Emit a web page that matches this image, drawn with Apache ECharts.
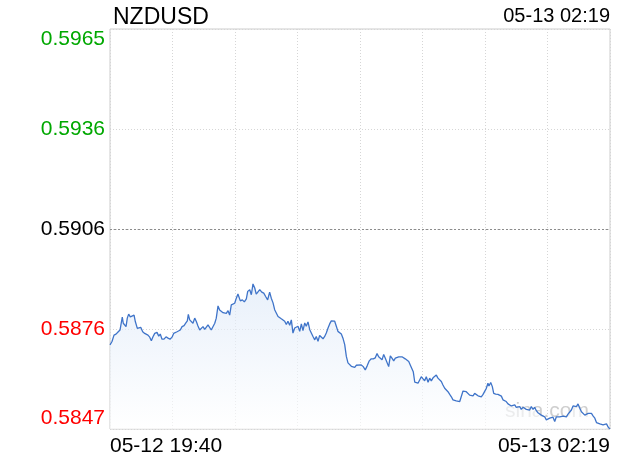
<!DOCTYPE html>
<html>
<head>
<meta charset="utf-8">
<script src="https://cdn.jsdelivr.net/npm/echarts@6/dist/echarts.min.js"></script>
<style>
html,body{margin:0;padding:0;background:#fff;}
#chart{width:620px;height:460px;}
</style>
</head>
<body>
<div id="chart"></div>
<script>
const symbol = 'NZDUSD';
const lastTime = '05-13 02:19';
const xTickLabels = ['05-12 19:40', '', '', '', '', '', '', '', '05-13 02:19'];
const yTickLabels = ['0.5847', '0.5876', '0.5906', '0.5936', '0.5965'];
const yTickColors = ['#ff0000', '#ff0000', '#000000', '#00a800', '#00a800'];
const priceMin = 0.5847;
const priceMax = 0.5965;
const prevClose = 0.5906;
const totalMinutes = 399;

// minutes since 05-12 19:40
const minutes = [0,1.6,3.2,4.8,6.4,8.0,9.0,9.8,10.6,11.7,12.8,13.8,14.9,16.2,17.6,19.2,20.2,21.8,23.1,24.5,26.1,27.7,29.0,30.3,31.7,33.0,34.3,35.7,37.5,38.9,40.1,41.5,43.1,44.7,46.3,47.9,49.5,50.8,52.1,53.5,54.8,56.1,57.5,59.1,60.4,61.7,62.5,63.6,64.9,66.2,67.6,68.9,70.2,71.6,72.9,74.2,75.6,76.8,78.2,79.6,80.8,82.2,83.6,84.8,86.2,87.5,88.8,90.2,91.5,92.8,94.2,95.5,96.8,98.2,99.5,100.8,102.1,
104.0,105.6,107.2,108.8,109.9,111.5,112.8,114.1,115.5,116.7,118.1,119.5,121.1,122.7,124.2,125.8,127.4,128.7,130.1,131.4,132.7,134.1,135.4,136.7,138.1,139.4,140.7,142.0,143.4,144.7,146.0,147.4,148.7,150.0,151.4,152.7,154.0,155.4,156.6,158.0,159.4,160.6,162.0,163.4,164.6,166.0,167.3,168.6,170.0,171.3,172.6,174.0,175.3,176.6,178.0,179.3,180.6,181.9,183.3,184.6,185.9,187.3,188.6,189.9,191.3,192.6,193.9,195.3,196.5,197.9,
200.5,202.1,203.7,205.3,206.9,208.5,210.1,211.7,213.1,214.4,215.7,217.1,218.4,219.7,221.0,222.4,223.7,225.0,226.4,227.7,229.0,230.4,231.7,233.0,234.4,235.6,237.0,238.4,239.6,241.0,242.0,243.2,244.5,245.8,247.1,248.4,249.8,251.1,252.4,253.8,255.1,256.4,257.8,259.1,260.4,261.7,263.1,264.4,265.7,267.1,268.4,269.7,271.1,272.4,273.7,275.1,276.3,277.7,279.1,280.3,281.7,283.1,284.3,285.7,287.0,288.3,289.7,291.0,292.3,293.7,295.0,296.3,297.7,299.0,300.3,301.6,
302.4,303.8,305.1,306.2,307.8,309.6,311.0,312.3,313.6,315.0,316.2,317.6,319.0,320.3,321.6,323.0,324.2,325.6,327.0,328.2,329.6,330.9,332.2,333.6,334.9,336.2,337.6,338.9,340.2,341.5,342.9,344.2,345.5,346.9,348.2,349.5,350.9,352.2,353.5,354.9,356.2,357.5,358.9,360.2,361.5,362.9,364.2,365.5,366.9,368.2,369.5,370.9,372.2,373.5,374.9,376.2,377.5,378.9,380.2,381.6,382.9,384.2,385.6,386.9,388.2,389.6,390.9,392.2,393.5,394.9,396.2,397.6,399];

const prices = [0.58718,0.58728,0.58747,0.58750,0.58756,0.58762,0.58760,0.58800,0.58782,0.58787,0.58772,0.58797,0.58809,0.58801,0.58800,0.58806,0.58787,0.58767,0.58764,0.58770,0.58757,0.58752,0.58757,0.58747,0.58741,0.58730,0.58742,0.58752,0.58755,0.58744,0.58750,0.58735,0.58735,0.58742,0.58738,0.58735,0.58741,0.58752,0.58750,0.58757,0.58754,0.58762,0.58772,0.58775,0.58782,0.58789,0.58808,0.58792,0.58794,0.58782,0.58797,0.58787,0.58774,0.58762,0.58767,0.58772,0.58764,0.58767,0.58777,0.58780,0.58762,0.58757,0.58782,0.58797,0.58833,0.58821,0.58816,0.58813,0.58816,0.58811,0.58819,0.58806,0.58836,0.58839,0.58841,0.58856,0.58868,
0.58848,0.58851,0.58845,0.58854,0.58876,0.58881,0.58866,0.58898,0.58886,0.58868,0.58864,0.58881,0.58874,0.58871,0.58861,0.58851,0.58874,0.58856,0.58842,0.58822,0.58817,0.58802,0.58797,0.58795,0.58792,0.58788,0.58778,0.58788,0.58776,0.58792,0.58753,0.58768,0.58763,0.58773,0.58758,0.58780,0.58760,0.58783,0.58773,0.58786,0.58763,0.58758,0.58743,0.58733,0.58743,0.58729,0.58746,0.58741,0.58736,0.58743,0.58753,0.58768,0.58780,0.58789,0.58792,0.58788,0.58773,0.58758,0.58753,0.58750,0.58738,0.58719,0.58684,0.58665,0.58662,0.58655,0.58660,0.58652,0.58658,0.58662,
0.58659,0.58654,0.58644,0.58657,0.58671,0.58677,0.58677,0.58680,0.58693,0.58683,0.58686,0.58674,0.58690,0.58679,0.58677,0.58654,0.58686,0.58679,0.58671,0.58679,0.58674,0.58683,0.58679,0.58683,0.58679,0.58677,0.58674,0.58669,0.58659,0.58654,0.58639,0.58608,0.58610,0.58605,0.58610,0.58624,0.58618,0.58612,0.58624,0.58608,0.58620,0.58612,0.58621,0.58624,0.58629,0.58620,0.58615,0.58610,0.58600,0.58590,0.58585,0.58580,0.58572,0.58565,0.58556,0.58551,0.58553,0.58556,0.58551,0.58556,0.58582,0.58585,0.58580,0.58575,0.58570,0.58572,0.58568,0.58575,0.58572,0.58568,0.58572,0.58565,0.58572,0.58575,0.58590,0.58605,
0.58597,0.58607,0.58595,0.58575,0.58573,0.58572,0.58570,0.58567,0.58556,0.58558,0.58551,0.58544,0.58548,0.58538,0.58536,0.58541,0.58534,0.58531,0.58536,0.58528,0.58534,0.58531,0.58528,0.58531,0.58526,0.58536,0.58528,0.58534,0.58524,0.58518,0.58514,0.58511,0.58513,0.58506,0.58497,0.58492,0.58502,0.58497,0.58505,0.58492,0.58506,0.58502,0.58506,0.58502,0.58508,0.58511,0.58506,0.58514,0.58518,0.58526,0.58538,0.58541,0.58536,0.58544,0.58531,0.58521,0.58516,0.58511,0.58508,0.58516,0.58514,0.58516,0.58508,0.58502,0.58489,0.58492,0.58485,0.58489,0.58482,0.58487,0.58485,0.58475,0.58470];

// work in pips above the axis minimum so the tick start is a multiple of the interval
const PIP = 10000;
const yRange = Math.round((priceMax - priceMin) * PIP * 10) / 10; // 118
const yInterval = yRange / 4;
const xInterval = totalMinutes / 8;
const seriesData = minutes.map((m, i) => [m, (prices[i] - priceMin) * PIP]);
const prevCloseY = (prevClose - priceMin) * PIP;

const FONT = '"Liberation Sans", Arial, Helvetica, sans-serif';

const chart = echarts.init(document.getElementById('chart'), null, {renderer: 'canvas'});
chart.setOption({
  animation: false,
  backgroundColor: '#fff',
  title: {
    text: symbol,
    left: 108,
    top: 1,
    textStyle: {fontFamily: FONT, fontSize: 23, fontWeight: 'normal', color: '#000'}
  },
  graphic: [
    {
      type: 'text', right: 10, top: 6, z: 10,
      style: {text: lastTime, font: '20px ' + FONT, fill: '#000'}
    },
    {
      type: 'text', left: 505, top: 401, z: -1, silent: true,
      style: {text: 'sina.com', font: '21px ' + FONT, fill: '#cfcfcf'}
    }
  ],
  grid: {
    left: 110, right: 10, top: 29, bottom: 31,
    show: true, borderColor: '#cccccc', borderWidth: 1, backgroundColor: 'transparent'
  },
  xAxis: {
    type: 'value',
    min: 0, max: totalMinutes, interval: xInterval,
    axisLine: {show: false},
    axisTick: {show: false},
    splitLine: {show: true, lineStyle: {color: '#d6d6d6', type: [1, 2], width: 1}},
    axisLabel: {
      show: true, margin: 7,
      fontFamily: FONT, fontSize: 21, color: '#000',
      alignMinLabel: 'left', alignMaxLabel: 'right',
      formatter: function (v) {
        const idx = Math.round(v / xInterval);
        return xTickLabels[idx] || '';
      }
    }
  },
  yAxis: {
    type: 'value',
    min: 0, max: yRange, interval: yInterval,
    axisLine: {show: false},
    axisTick: {show: false},
    splitLine: {show: true, lineStyle: {color: '#d6d6d6', type: [1, 2], width: 1}},
    axisLabel: {
      show: true, margin: 5,
      fontFamily: FONT, fontSize: 21,
      verticalAlignMinLabel: 'bottom', verticalAlignMaxLabel: 'top',
      formatter: function (v) {
        const idx = Math.round(v / yInterval);
        return yTickLabels[idx] || '';
      },
      color: function (v) {
        const idx = Math.round(v / yInterval);
        return yTickColors[idx] || '#000';
      }
    }
  },
  series: [{
    type: 'line',
    data: seriesData,
    showSymbol: false,
    symbol: 'none',
    lineStyle: {color: '#3f74c9', width: 1.3},
    areaStyle: {
      origin: 'start',
      color: new echarts.graphic.LinearGradient(0, 0, 0, 1, [
        {offset: 0, color: 'rgba(220,232,248,0.9)'},
        {offset: 1, color: 'rgba(255,255,255,0.9)'}
      ])
    },
    markLine: {
      silent: true, symbol: 'none',
      label: {show: false},
      lineStyle: {color: '#8c8c8c', type: [2, 2], width: 1},
      data: [{yAxis: prevCloseY}]
    }
  }]
});
</script>
</body>
</html>
